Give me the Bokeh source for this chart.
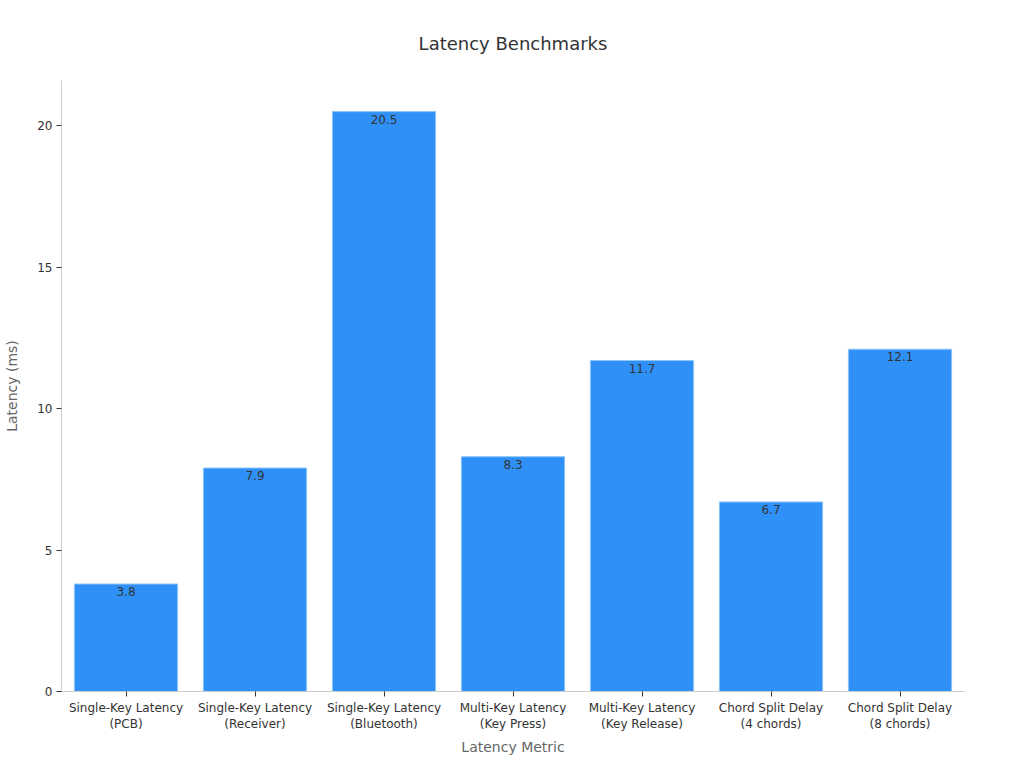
from bokeh.plotting import figure
from bokeh.models import ColumnDataSource, Range1d, FactorRange, LabelSet
from bokeh.core.properties import value
from bokeh.embed import file_html
from bokeh.resources import INLINE

categories = [
    "Single-Key Latency\n(PCB)",
    "Single-Key Latency\n(Receiver)",
    "Single-Key Latency\n(Bluetooth)",
    "Multi-Key Latency\n(Key Press)",
    "Multi-Key Latency\n(Key Release)",
    "Chord Split Delay\n(4 chords)",
    "Chord Split Delay\n(8 chords)",
]
latency_ms = [3.8, 7.9, 20.5, 8.3, 11.7, 6.7, 12.1]
value_labels = [f"{v:.1f}" for v in latency_ms]
title_text = "Latency Benchmarks"

FONT = "DejaVu Sans"

source = ColumnDataSource(data=dict(cat=categories, val=latency_ms, lab=value_labels))

p = figure(
    width=1024, height=768,
    x_range=FactorRange(factors=categories, range_padding=0),
    y_range=Range1d(0, 21.6),
    output_backend="svg", toolbar_location=None,
    min_border_left=61, min_border_right=60, min_border_top=80, min_border_bottom=77,
)
p.outline_line_color = None
p.grid.visible = False

p.title.text = title_text
p.title.align = "center"
p.title.text_font = FONT
p.title.text_font_size = "18px"
p.title.text_font_style = "normal"
p.title.text_color = "#333333"
p.title.offset = 0
p.title.standoff = 54

p.vbar(x="cat", top="val", width=0.8, source=source,
       fill_color="#2f91f7", line_color="#8cc4fb", line_width=1)

labels = LabelSet(x="cat", y="val", text="lab", source=source,
                  text_align="center", text_baseline="top", y_offset=-3,
                  text_font=value(FONT), text_font_size="12px", text_color="#333333")
p.add_layout(labels)

for ax in (p.xaxis[0], p.yaxis[0]):
    ax.axis_line_color = "#cccccc"
    ax.major_tick_line_color = "#333333"
    ax.minor_tick_line_color = None
    ax.major_tick_out = 5
    ax.major_tick_in = 0
    ax.major_label_text_font = FONT
    ax.major_label_text_font_size = "12px"
    ax.major_label_text_color = "#333333"
    ax.axis_label_text_font = FONT
    ax.axis_label_text_font_size = "14px"
    ax.axis_label_text_font_style = "normal"
    ax.axis_label_text_color = "#666666"

p.xaxis.axis_label = "Latency Metric"
p.yaxis.axis_label = "Latency (ms)"
p.yaxis.ticker = [0, 5, 10, 15, 20]
p.xaxis.major_label_standoff = 4
p.yaxis.major_label_standoff = 4
p.yaxis.axis_label_standoff = 14

open("out.html", "w").write(file_html(p, INLINE))
